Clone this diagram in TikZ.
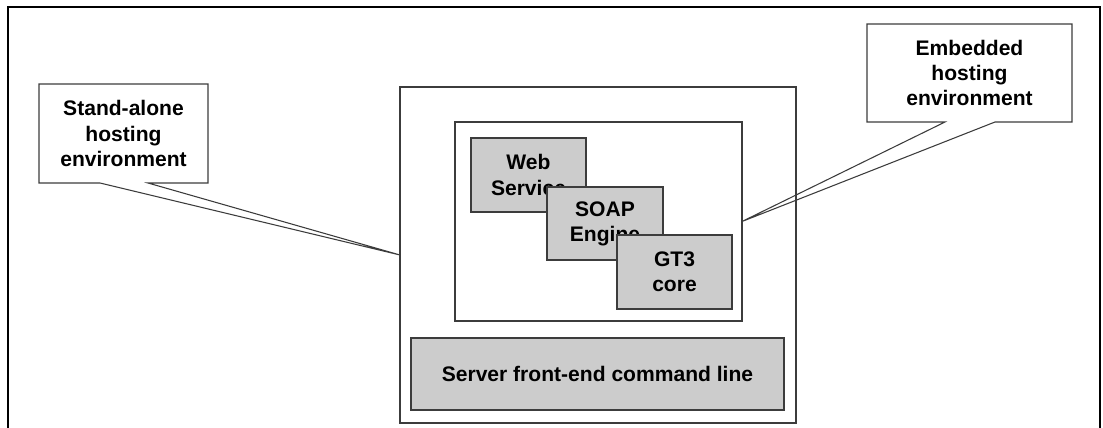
\documentclass[tikz,border=0pt]{standalone}
\usepackage{fontspec}
\setmainfont{Liberation Sans}
\usetikzlibrary{calc,backgrounds}
\definecolor{panelgray}{RGB}{204,204,204}
\definecolor{edgegray}{RGB}{60,60,60}
\tikzset{
  boxdim/.style 2 args={minimum width=#1*0.75pt, minimum height=#2*0.75pt},
  label text/.style={font=\fontsize{15.8pt}{18.8pt}\selectfont\bfseries,
    align=center, inner sep=0pt, outer sep=0pt},
  frame/.style={draw=edgegray, line width=0.8pt},
  openbox/.style={frame, label text},
  grayblock/.style={frame, fill=panelgray, label text},
  calloutshape/.style={draw=edgegray, line width=0.8pt, fill=white, line join=miter},
  outerframe/.style={draw=black, line width=1.8pt},
}
\begin{document}
\begin{tikzpicture}[x=0.75pt, y=-0.75pt]
  \useasboundingbox (0,0) rectangle (1103,428);

  % page frame (open at the bottom)
  \coordinate (fbl) at (8,430);
  \coordinate (ftl) at (8,7);
  \coordinate (ftr) at (1100,7);
  \coordinate (fbr) at (1100,430);
  \draw[outerframe] (fbl) -- (ftl) -- (ftr) -- (fbr);

  % hosting environment and its contents
  \node[openbox, boxdim={396}{336}] (main) at (598,255) {};
  \node[openbox, boxdim={287}{199}, fill=white] (inner) at (598.5,221.5) {};
  \node[grayblock, boxdim={115}{74}] (web) at (528.5,175) {Web\\Service};
  \node[grayblock, boxdim={116}{73}] (soap) at (605,223.5) {SOAP\\Engine};
  \node[grayblock, boxdim={115}{74}] (gt3) at (674.5,272) {GT3\\core};
  \node[grayblock, boxdim={373}{72}] (server) at (597.5,374) {Server front-end command line};

  % callout labels
  \node[label text, boxdim={169}{99}] (standalone) at (123.5,133.5)
    {Stand-alone\\hosting\\environment};
  \node[label text, boxdim={205}{98}] (embedded) at (969.5,73)
    {Embedded\\hosting\\environment};

  \begin{scope}[on background layer]
    \draw[calloutshape]
      (standalone.north west) -- (standalone.north east) -- (standalone.south east)
      -- ($(standalone.south west)+(109,0)$) -- (main.west)
      -- ($(standalone.south west)+(61,0)$) -- (standalone.south west) -- cycle;
    \draw[calloutshape]
      (embedded.north west) -- (embedded.north east) -- (embedded.south east)
      -- ($(embedded.south west)+(128,0)$) -- (inner.east)
      -- ($(embedded.south west)+(78,0)$) -- (embedded.south west) -- cycle;
  \end{scope}
\end{tikzpicture}
\end{document}
